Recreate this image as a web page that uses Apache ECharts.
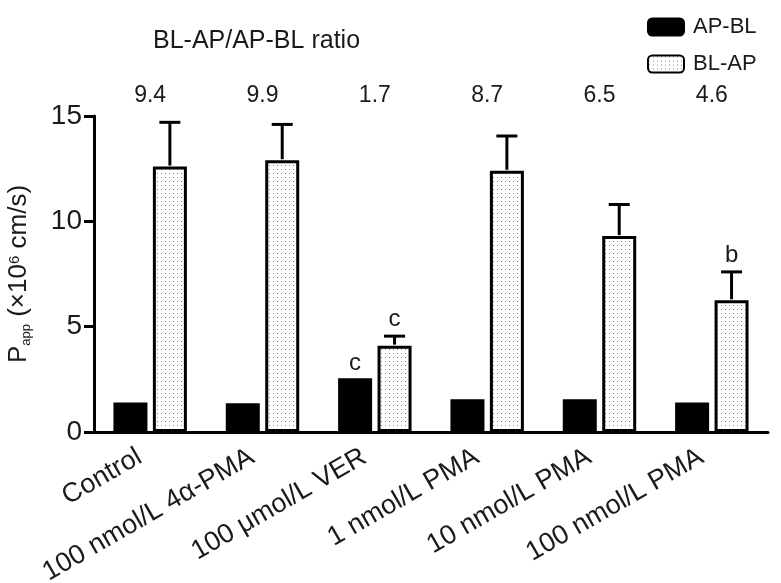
<!DOCTYPE html>
<html>
<head>
<meta charset="utf-8">
<script src="https://cdn.jsdelivr.net/npm/echarts@6/dist/echarts.min.js"></script>
<style>html,body{margin:0;padding:0;background:#fff}#c{width:781px;height:583px}</style>
</head>
<body>
<div id="c"></div>
<script>
const categories = ['Control', '100 nmol/L 4α-PMA', '100 μmol/L VER', '1 nmol/L PMA', '10 nmol/L PMA', '100 nmol/L PMA'];
const apblValues = [1.4, 1.37, 2.55, 1.55, 1.55, 1.4];
const blapValues = [12.6, 12.9, 4.1, 12.4, 9.3, 6.25];
const blapErrors = [2.1, 1.7, 0.45, 1.65, 1.5, 1.35];
const apblSig = ['', '', 'c', '', '', ''];
const blapSig = ['', '', 'c', '', '', 'b'];
const ratioLabels = ['9.4', '9.9', '1.7', '8.7', '6.5', '4.6'];
const yTicks = [0, 5, 10, 15];

const FONT = 'Liberation Sans, Arial, sans-serif';
const TXT = '#1a1a1a';
const BAR_W = 34;
const BAR_GAP = 0.16;
const OFFSET = (BAR_W + BAR_W * BAR_GAP) / 2;

// dotted pattern
const pc = document.createElement('canvas');
pc.width = 4; pc.height = 4;
const pctx = pc.getContext('2d');
pctx.fillStyle = '#ffffff'; pctx.fillRect(0, 0, 4, 4);
pctx.fillStyle = '#8a8a8a'; pctx.fillRect(1, 1, 1, 1);

const chart = echarts.init(document.getElementById('c'), null, {renderer: 'canvas'});
chart.setOption({
  animation: false,
  backgroundColor: '#fff',
  title: {
    text: 'BL-AP/AP-BL ratio',
    left: 153, top: 29, padding: 0,
    textStyle: {fontFamily: FONT, fontSize: 25, fontWeight: 'normal', color: TXT}
  },
  legend: {
    orient: 'vertical', left: 647, top: 16, padding: 0,
    itemWidth: 36, itemHeight: 17, itemGap: 15,
    data: ['AP-BL', 'BL-AP'],
    textStyle: {fontFamily: FONT, fontSize: 22, color: TXT, padding: [0, 0, 0, 4]}
  },
  grid: {left: 94, right: 13, top: 116, bottom: 151, containLabel: false, outerBoundsMode: 'none'},
  xAxis: {
    type: 'category', data: categories,
    axisLine: {lineStyle: {color: '#000', width: 3}},
    axisTick: {alignWithLabel: true, length: 10, lineStyle: {color: '#000', width: 3}},
    axisLabel: {rotate: 30, fontFamily: FONT, fontSize: 27, color: TXT, margin: 17, interval: 0,
      padding: [0, 12, 0, 0]}
  },
  yAxis: {
    type: 'value', min: 0, max: 15, interval: 5,
    name: '{m|P}{s|app}{m| (×10}{u|6}{m| cm/s)}',
    nameLocation: 'middle', nameGap: 60, nameRotate: 90,
    nameTextStyle: {
      fontFamily: FONT, color: TXT,
      rich: {
        m: {fontFamily: FONT, fontSize: 26, color: TXT, lineHeight: 30, verticalAlign: 'middle'},
        s: {fontFamily: FONT, fontSize: 13, color: TXT, verticalAlign: 'bottom', lineHeight: 30, padding: [0, 0, 1, 0]},
        u: {fontFamily: FONT, fontSize: 15, color: TXT, verticalAlign: 'top', lineHeight: 30, padding: [3, 0, 0, 0]}
      }
    },
    axisLine: {show: true, lineStyle: {color: '#000', width: 3}},
    axisTick: {show: true, length: 10, lineStyle: {color: '#000', width: 3}},
    splitLine: {show: false},
    axisLabel: {fontFamily: FONT, fontSize: 28, color: TXT, margin: 12,
      formatter: v => yTicks.indexOf(v) >= 0 ? String(v) : ''}
  },
  series: [
    {
      name: 'AP-BL', type: 'bar', barWidth: BAR_W, barGap: (BAR_GAP * 100) + '%',
      data: apblValues.map((v, i) => ({value: v, label: {show: !!apblSig[i], formatter: apblSig[i]}})),
      itemStyle: {color: '#000', borderColor: '#000', borderWidth: 3},
      label: {position: 'top', distance: 3, fontFamily: FONT, fontSize: 24, color: TXT}
    },
    {
      name: 'BL-AP', type: 'bar', barWidth: BAR_W,
      data: blapValues,
      itemStyle: {color: {image: pc, repeat: 'repeat'}, borderColor: '#000', borderWidth: 3}
    },
    {
      name: 'err', type: 'custom', z: 5,
      data: blapValues.map((v, i) => [i, v, blapErrors[i]]),
      renderItem: function (params, api) {
        const i = api.value(0);
        const base = api.coord([i, api.value(1)]);
        const top = api.coord([i, api.value(1) + api.value(2)]);
        const x = base[0] + OFFSET;
        const children = [
          {type: 'line', shape: {x1: x, y1: base[1] - 1, x2: x, y2: top[1]}, style: {stroke: '#000', lineWidth: 3}},
          {type: 'line', shape: {x1: x - 10.5, y1: top[1], x2: x + 10.5, y2: top[1]}, style: {stroke: '#000', lineWidth: 3}}
        ];
        const sig = blapSig[params.dataIndex];
        if (sig) {
          children.push({type: 'text', style: {text: sig, x: x, y: top[1] - 5, align: 'center', verticalAlign: 'bottom',
            fontFamily: FONT, fontSize: 24, fill: TXT}});
        }
        return {type: 'group', children: children};
      }
    },
    {
      name: 'ratio', type: 'custom', z: 5,
      data: ratioLabels.map((r, i) => [i, 0]),
      renderItem: function (params, api) {
        const p = api.coord([api.value(0), 0]);
        return {type: 'text', style: {text: ratioLabels[params.dataIndex], x: p[0], y: params.coordSys.y - 20,
          align: 'center', verticalAlign: 'middle', fontFamily: FONT, fontSize: 23, fill: TXT}};
      }
    }
  ]
});
</script>
</body>
</html>
